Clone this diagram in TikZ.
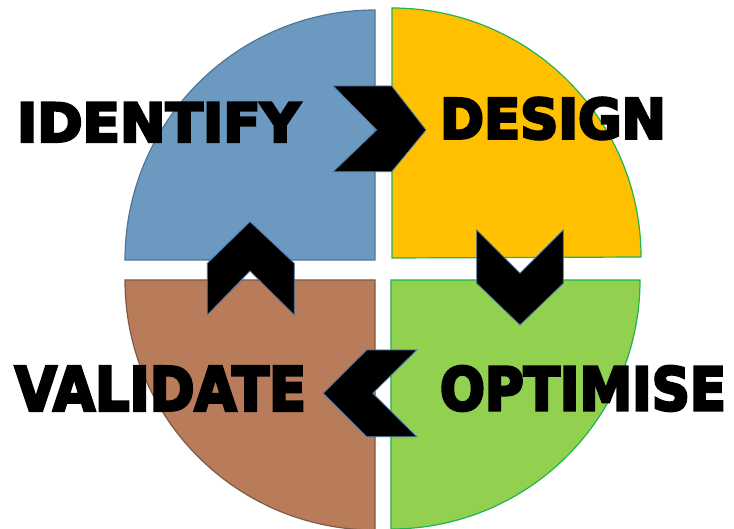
\documentclass[tikz,border=0pt]{standalone}
\usepackage{fontspec}
\newfontfamily\fatfont[FakeBold=5]{DejaVu Sans Bold}
\definecolor{qblue}{HTML}{6B99BF}
\definecolor{qblueline}{HTML}{4F7598}
\definecolor{qorange}{HTML}{FFC000}
\definecolor{qgreenline}{HTML}{1FB44F}
\definecolor{qgreen}{HTML}{92D050}
\definecolor{qbrown}{HTML}{B87C5B}
\definecolor{qbrownline}{HTML}{7E5A47}
\definecolor{chevline}{HTML}{4A78A8}
\tikzset{
  quarter/.style={line width=1.2pt},
  chev/.style={fill=black, draw=chevline, line width=0.8pt, line join=miter},
  label/.style={inner sep=0pt, outer sep=0pt, text=black}
}
\newcommand{\fatword}[3]{\resizebox{#1pt}{#2pt}{\fatfont #3}}
\begin{document}
\begin{tikzpicture}[x=1pt,y=1pt]
\useasboundingbox (0,0) rectangle (734,528);
\clip (0,0) rectangle (734,528);
% quadrants
\draw[quarter, fill=qblue, draw=qblueline] (375,268) -- (125,268) arc[start angle=180, end angle=90, radius=250] -- cycle;
\draw[quarter, fill=qorange, draw=qgreenline] (392,270) -- (392,520) arc[start angle=90, end angle=0, radius=249] -- cycle;
\draw[quarter, fill=qgreen, draw=qgreenline] (391,248) -- (640,248) arc[start angle=0, end angle=-90, radius=249] -- cycle;
\draw[quarter, fill=qbrown, draw=qbrownline] (375,248) -- (375,-2) arc[start angle=-90, end angle=-180, radius=250] -- cycle;
% chevrons
\draw[chev] (333.3,442) -- (391.7,442) -- (426,398) -- (391.7,356.3) -- (333.3,356.3) -- (376.7,398) -- cycle;
\draw[chev] (476.7,298) -- (520,254.7) -- (563.3,298) -- (563.3,244.7) -- (520,203) -- (476.7,244.7) -- cycle;
\draw[chev] (250,306.3) -- (294.3,264.7) -- (294.3,213) -- (250,257) -- (207.3,213) -- (207.3,264.7) -- cycle;
\draw[chev] (416.7,178) -- (366.7,178) -- (323.3,134.7) -- (366.7,91.3) -- (416.7,91.3) -- (372.7,134.7) -- cycle;
% labels
\node[label] (identify) at (158.5,405.7) {\fatword{283}{39}{IDENTIFY}};
\node[label] (design) at (553,409.5) {\fatword{226}{41}{DESIGN}};
\node[label] (validate) at (160.5,139.5) {\fatword{291}{44}{VALIDATE}};
\node[label] (optimise) at (583,139.5) {\fatword{286}{44}{OPTIMISE}};
\end{tikzpicture}
\end{document}
